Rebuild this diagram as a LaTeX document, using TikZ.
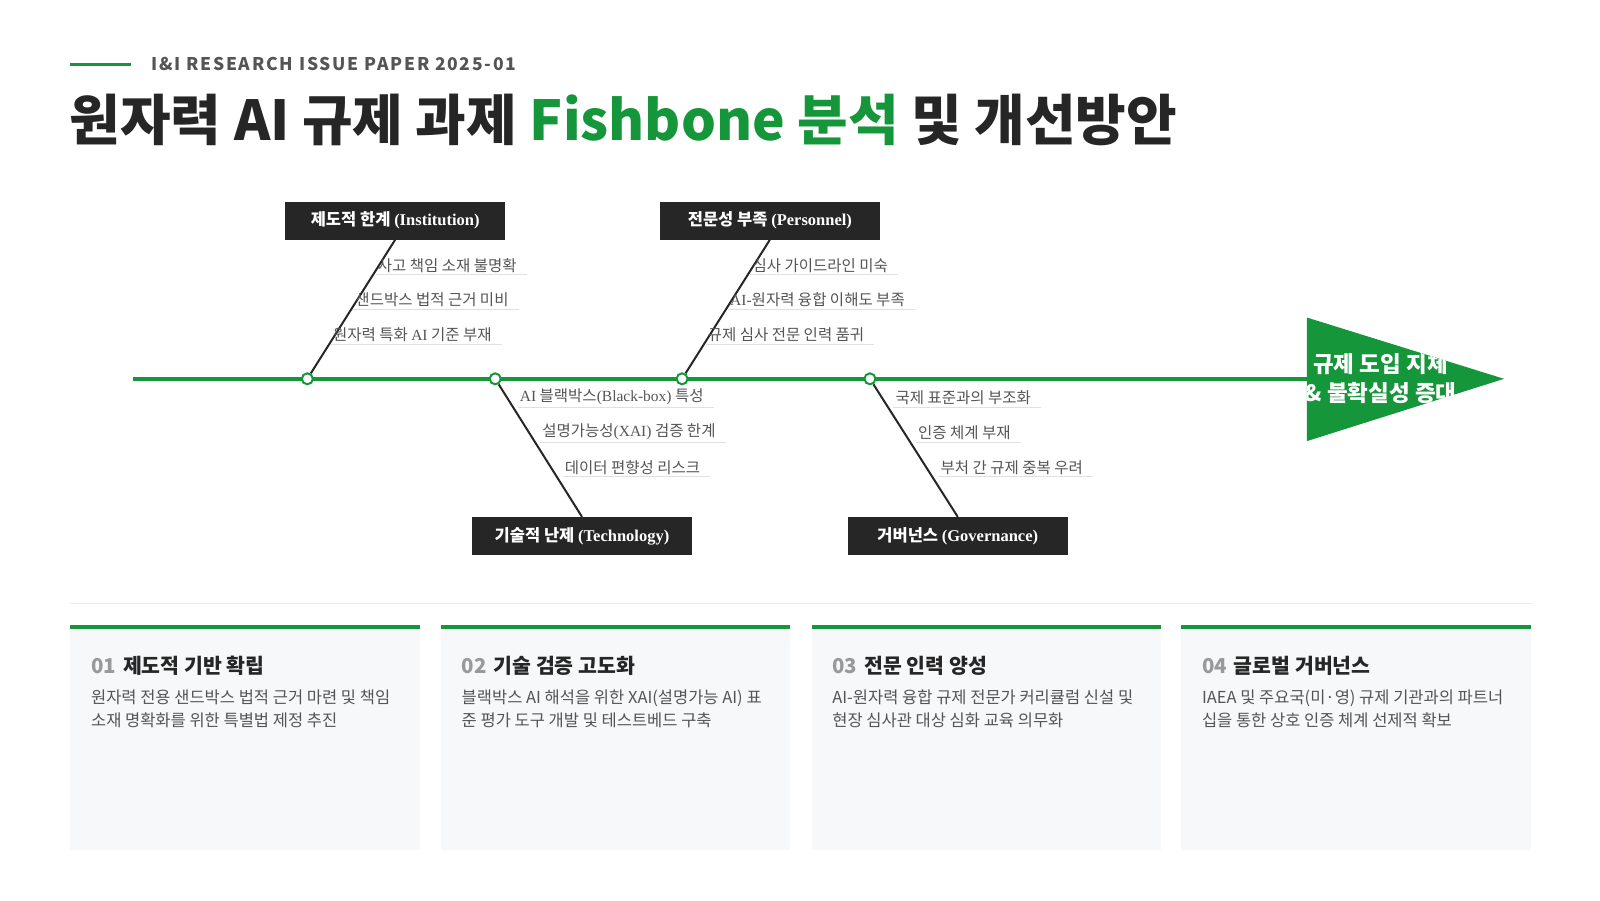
\documentclass[tikz,border=0pt]{standalone}
\usepackage{fontspec}
\setmainfont{Noto Sans CJK KR}
\newfontfamily\serifkr{Liberation Serif}
\definecolor{fbgreen}{HTML}{16963A}
\definecolor{fbdark}{HTML}{262626}
\definecolor{fbgray}{HTML}{555555}
\definecolor{fbcard}{HTML}{F7F8F9}
\tikzset{
  cat/.style={fill=fbdark,text=white,minimum width=220pt,minimum height=38pt,inner sep=0pt,font=\fontsize{16.5}{16.5}\selectfont\bfseries},
  joint/.style={circle,draw=fbgreen,fill=white,line width=2pt,minimum size=11pt,inner sep=0pt},
  bone/.style={draw=fbdark,line width=2pt},
  item/.style={anchor=south west,inner sep=2pt,text=fbgray,font=\fontsize{15.5}{15.5}\selectfont},
  uline/.style={draw=black!12,line width=1.2pt},
  card/.style={fill=fbcard,draw=none},
}
\newcommand\itemtop[3]{% x, y, text
  \node[item] (t) at (#1,#2) {#3};
  \draw[uline] (t.south west) -- ([xshift=8pt]t.south east);}
\begin{document}
\begin{tikzpicture}[x=1.021pt,y=1.021pt,yscale=-1]
\useasboundingbox (0,0) rectangle (1567,881.5);

% header
\draw[fbgreen,line width=3.5pt] (69,63) -- (128,63);
\node[anchor=west,inner sep=0pt,text=fbgray,font=\fontsize{17.5}{17.5}\selectfont\bfseries\addfontfeatures{LetterSpace=10}] (kicker) at (148,63) {I\&I RESEARCH ISSUE PAPER 2025-01};
\node[anchor=west,inner sep=0pt,text=fbdark,font=\fontsize{55}{55}\selectfont\bfseries] (title) at (68,117)
  {원자력 AI 규제 과제 \textcolor{fbgreen}{Fishbone 분석} 및 개선방안};

% head
\coordinate (tail) at (130,371);
\path[fill=fbgreen] (1280,311) -- (1473,371) -- (1280,432) -- cycle;
\begin{scope}
  \clip (1280,311) -- (1473,371) -- (1280,432) -- cycle;
  \node[text=white,align=center,font=\fontsize{22.5}{29}\selectfont\bfseries] (effect) at (1352,371) {규제 도입 지체\\\& 불확실성 증대};
\end{scope}
\draw[fbgreen,line width=3.5pt] (tail) -- (1280,371);

% joints
\foreach \n/\x in {j1/301,j2/485,j3/668,j4/852}
  \node[joint] (\n) at (\x,371) {};

% categories
\node[cat] (inst) at (387,216) {제도적 한계 {\serifkr (Institution)}};
\node[cat] (pers) at (754,216) {전문성 부족 {\serifkr (Personnel)}};
\node[cat] (tech) at (570,525) {기술적 난제 {\serifkr (Technology)}};
\node[cat] (gov)  at (938,525) {거버넌스 {\serifkr (Governance)}};
\draw[bone] (inst.south) -- (j1);
\draw[bone] (pers.south) -- (j3);
\draw[bone] (tech.north) -- (j2);
\draw[bone] (gov.north) -- (j4);

% causes
\itemtop{368}{269}{사고 책임 소재 불명확}
\itemtop{346}{303}{샌드박스 법적 근거 미비}
\itemtop{324}{337}{원자력 특화 {\serifkr AI} 기준 부재}
\itemtop{735}{269}{심사 가이드라인 미숙}
\itemtop{713}{303}{{\serifkr AI-}원자력 융합 이해도 부족}
\itemtop{691}{337}{규제 심사 전문 인력 품귀}
\itemtop{507}{399}{{\serifkr AI} 블랙박스{\serifkr (Black-box)} 특성}
\itemtop{529}{433}{설명가능성{\serifkr (XAI)} 검증 한계}
\itemtop{551}{467}{데이터 편향성 리스크}
\itemtop{875}{399}{국제 표준과의 부조화}
\itemtop{897}{433}{인증 체계 부재}
\itemtop{919}{467}{부처 간 규제 중복 우려}

% solutions
\draw[black!8,line width=1.5pt] (69,591) -- (1500,591);
\foreach \i/\x/\h/\a/\b in {
  01/69/제도적 기반 확립/원자력 전용 샌드박스 법적 근거 마련 및 책임/소재 명확화를 위한 특별법 제정 추진,
  02/432/기술 검증 고도화/블랙박스 AI 해석을 위한 XAI(설명가능 AI) 표/준 평가 도구 개발 및 테스트베드 구축,
  03/795/전문 인력 양성/AI-원자력 융합 규제 전문가 커리큘럼 신설 및/현장 심사관 대상 심화 교육 의무화,
  04/1157/글로벌 거버넌스/IAEA 및 주요국(미·영) 규제 기관과의 파트너/십을 통한 상호 인증 체계 선제적 확보}{
  \path[card] (\x,612) rectangle ++(342,220);
  \draw[fbgreen,line width=4pt] (\x,614) -- ++(342,0);
  \node[anchor=west,inner sep=0pt,font=\fontsize{20.5}{20.5}\selectfont\bfseries] (card\i) at (\x+20,652)
    {\textcolor{black!40}{\i}\hspace{7pt}\textcolor{fbdark}{\h}};
  \node[anchor=north west,inner sep=0pt,align=left,text=fbgray,font=\fontsize{16.5}{23.5}\selectfont] (body\i) at (\x+20,675) {\a\\\b};
}
\end{tikzpicture}
\end{document}
